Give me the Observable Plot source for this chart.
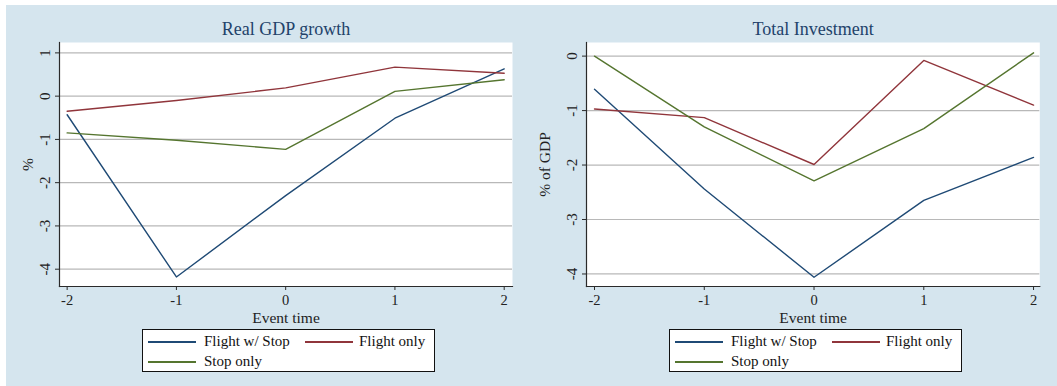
<!DOCTYPE html>
<html>
<head>
<meta charset="utf-8">
<script src="https://cdn.jsdelivr.net/npm/d3@7"></script>
<script src="https://cdn.jsdelivr.net/npm/@observablehq/plot@0.6"></script>
<style>
  html, body { margin: 0; padding: 0; background: #ffffff; }
  #page { position: relative; width: 1057px; height: 386px; overflow: hidden; background: #ffffff; }
  #bg { position: absolute; left: 6px; top: 5px; width: 1051px; height: 381px; background: #d5e5ee; }
  .panel { position: absolute; top: 0; }
  .legend { position: absolute; box-sizing: border-box; border: 1px solid #111; background: #ffffff;
            font-family: "Liberation Serif", "Times New Roman", serif; font-size: 15px; color: #111; }
  .legend .item { position: absolute; height: 20px; line-height: 20px; white-space: nowrap; }
  .legend .swatch { position: absolute; height: 1.5px; }
</style>
</head>
<body>
<div id="page"><div id="bg"></div></div>
<script>
// ---- data ----
const eventTime = [-2, -1, 0, 1, 2];
const seriesNames = ["Flight w/ Stop", "Flight only", "Stop only"];
const seriesColors = ["#1f4a75", "#90353b", "#55752f"];

const gdpFlightStop = [-0.43, -4.18, -2.30, -0.51, 0.63];
const gdpFlightOnly = [-0.35, -0.10, 0.19, 0.67, 0.53];
const gdpStopOnly   = [-0.85, -1.02, -1.23, 0.11, 0.38];

const invFlightStop = [-0.61, -2.44, -4.06, -2.65, -1.86];
const invFlightOnly = [-0.97, -1.13, -1.99, -0.08, -0.90];
const invStopOnly   = [0.00, -1.30, -2.29, -1.33, 0.06];

const xTicks = [-2, -1, 0, 1, 2];
const gdpTicks = [-4, -3, -2, -1, 0, 1];
const invTicks = [-4, -3, -2, -1, 0];

const titles = ["Real GDP growth", "Total Investment"];
const yLabels = ["%", "% of GDP"];
const xLabel = "Event time";

function toRows(seriesArrays) {
  const rows = [];
  seriesArrays.forEach((vals, i) => {
    vals.forEach((v, j) => rows.push({series: seriesNames[i], t: eventTime[j], v}));
  });
  return rows;
}

const FONT = '"Liberation Serif", "Times New Roman", serif';
const fmt = d => String(d);

function panel({rows, xDomain, yDomain, yTicks, title, yLabel, yLabelDx, width, marginRight}) {
  return Plot.plot({
    width, height: 386,
    marginLeft: 59, marginRight, marginTop: 42, marginBottom: 100,
    style: {background: "transparent", fontFamily: FONT, fontSize: "15px", color: "#222", overflow: "visible"},
    x: {domain: xDomain},
    y: {domain: yDomain},
    color: {domain: seriesNames, range: seriesColors},
    marks: [
      Plot.frame({fill: "white", stroke: null}),
      Plot.gridY(yTicks, {stroke: "#b8b8b8", strokeOpacity: 1, strokeWidth: 1.2}),
      Plot.frame({anchor: "left", stroke: "#2a2a2a", strokeWidth: 1.2}),
      Plot.frame({anchor: "bottom", stroke: "#2a2a2a", strokeWidth: 1.2}),
      Plot.axisY(yTicks, {tickSize: 4, tickRotate: -90, tickPadding: 6, tickFormat: fmt, label: null, stroke: "#2a2a2a", fill: "#222", fontSize: 15}),
      Plot.axisX(xTicks, {tickSize: 4, tickPadding: 4, tickFormat: fmt, label: null, stroke: "#2a2a2a", fill: "#222", fontSize: 14.5}),
      Plot.line(rows, {x: "t", y: "v", z: "series", stroke: "series", strokeWidth: 1.4}),
      Plot.text([title], {frameAnchor: "top", lineAnchor: "middle", dy: -13, fontSize: 18, fill: "#22426a"}),
      Plot.text([xLabel], {frameAnchor: "bottom", lineAnchor: "middle", dy: 32, fontSize: 15.5, fill: "#222"}),
      Plot.text([yLabel], {frameAnchor: "left", textAnchor: "middle", lineAnchor: "middle", dx: yLabelDx, rotate: -90, fontSize: 15.5, fill: "#222"})
    ]
  });
}

function legend(left) {
  const box = document.createElement("div");
  box.className = "legend";
  Object.assign(box.style, {left: left + "px", top: "329px", width: "293px", height: "43px"});
  const pos = [
    {lx: 5, tx: 61, y: 1},
    {lx: 162, tx: 216, y: 1},
    {lx: 5, tx: 61, y: 21}
  ];
  seriesNames.forEach((name, i) => {
    const sw = document.createElement("div");
    sw.className = "swatch";
    Object.assign(sw.style, {left: pos[i].lx + "px", width: "48px", top: (pos[i].y + 10) + "px", background: seriesColors[i]});
    const tx = document.createElement("div");
    tx.className = "item";
    Object.assign(tx.style, {left: pos[i].tx + "px", top: pos[i].y + "px"});
    tx.textContent = name;
    box.appendChild(sw);
    box.appendChild(tx);
  });
  return box;
}

const page = document.getElementById("page");

const left = panel({
  rows: toRows([gdpFlightStop, gdpFlightOnly, gdpStopOnly]),
  xDomain: [-2.07, 2.076], yDomain: [-4.4, 1.24], yTicks: gdpTicks,
  title: titles[0], yLabel: yLabels[0], yLabelDx: -31.5, width: 528, marginRight: 16
});
left.classList.add("panel");
left.style.left = "0px";
page.appendChild(left);

const right = panel({
  rows: toRows([invFlightStop, invFlightOnly, invStopOnly]),
  xDomain: [-2.073, 2.057], yDomain: [-4.23, 0.25], yTicks: invTicks,
  title: titles[1], yLabel: yLabels[1], yLabelDx: -41, width: 530, marginRight: 17.7
});
right.classList.add("panel");
right.style.left = "527px";
page.appendChild(right);

page.appendChild(legend(142));
page.appendChild(legend(669));
</script>
</body>
</html>
